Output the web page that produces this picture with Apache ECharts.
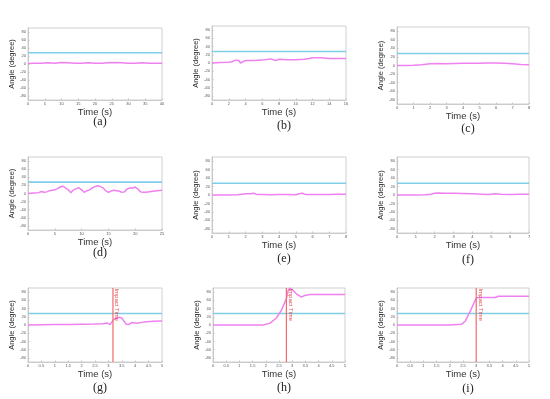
<!DOCTYPE html>
<html><head><meta charset="utf-8">
<script src="https://cdn.jsdelivr.net/npm/echarts@6/dist/echarts.min.js"></script>
<style>html,body{margin:0;padding:0;background:#fff}#c{width:550px;height:399px}</style>
</head><body><div id="c"></div>
<script>
// ---------- data ----------
const panelLabels = ['(a)','(b)','(c)','(d)','(e)','(f)','(g)','(h)','(i)'];
const yTicks = [-80,-60,-40,-20,0,20,40,60,80];
const threshold = 28;

const tA = [0,2,4,6,8,10,12,14,16,18,20,22,24,26,28,30,32,34,36,38,40];
const vA = [1,2,2,3,2,4,3,2,2,3,2,2,3,4,3,2,2,3,2,2,2];
const xTicksA = [0,5,10,15,20,25,30,35,40];

const tB = [0,1,2,2.4,2.8,3.0,3.2,3.4,3.6,4,5,6,7,7.6,8,9,10,11,11.6,12,12.2,12.6,13,14,15,16];
const vB = [0,1.5,2,3,7,10,6,0,3,6,6,7,10,6,9,8,8,9,11,13,10,13,13,11,11,11];
const xTicksB = [0,2,4,6,8,10,12,14,16];

const tC = [0,0.5,1,1.5,2,2.5,3,3.5,4,4.5,5,5.5,6,6.5,7,7.5,8];
const vC = [0,0,0.5,2,4,4.5,4,4.5,5,5,5.5,6,6,5.5,4,2.5,2];
const xTicksC = [0,1,2,3,4,5,6,7,8];

const tD = [0,1,2,2.5,3,3.5,4,4.5,5,5.5,6,6.5,7,7.5,8,8.5,9,9.5,10,10.5,11,11.5,12,12.5,13,13.5,14,14.5,15,15.5,16,16.5,17,17.5,18,18.5,19,19.5,20,20.5,21,21.5,22,23,24,25];
const vD = [0,1,2,5,3,4,7,8,9,12,16,18,14,9,2,9,12,14,9,3,7,9,14,17,19,17,14,7,3,6,8,7,6,3,4,11,14,13,16,11,4,3,3,5,7,8];
const xTicksD = [0,5,10,15,20,25];

const tE = [0,0.5,1,1.5,1.8,2,2.3,2.5,2.7,3,3.5,4,4.5,5,5.2,5.4,5.6,6,6.5,7,7.5,8];
const vE = [0,0,0,0.5,2,3,3,4,1,1,0.5,1,1,0.5,3,4,1,1,1,1,2,2];
const xTicksE = [0,1,2,3,4,5,6,7,8];

const tF = [0,0.5,1,1.5,1.8,2,2.2,2.5,3,3.5,4,4.5,4.8,5,5.2,5.5,6,6.5,7];
const vF = [0,0,0,0.5,2,4,5,4,4,3.5,3,2,1,2,3,1.5,1,1.5,2];
const xTicksF = [0,1,2,3,4,5,6,7];

const tG = [0,0.5,1,1.5,2,2.5,2.8,2.94,3.0,3.06,3.19,3.3,3.4,3.5,3.66,3.75,3.87,4.06,4.31,4.69,5];
const vG = [0,0.5,1,1.5,2,2.5,3,5,5,1,13,17,19,17,2,1,6,4,7,9,10];
const impactG = 3.17;

const tH = [0,0.5,1,1.5,1.9,2.15,2.4,2.6,2.72,2.78,2.85,2.91,3.04,3.16,3.35,3.48,3.67,4,4.5,5];
const vH = [0,0,0,0,0,4,17,37,55,64,84,90,84,76,68,72,74,74,74,74];
const impactH = 2.78;

const tI = [0,0.5,1,1.5,1.95,2.45,2.58,2.77,2.93,3.02,3.15,3.72,3.84,4.5,5];
const vI = [0,0,0,0,0,2,9,33,56,66,67,67,70,70,70];
const impactI = 3.0;

const xTicksGHI = [0,0.5,1,1.5,2,2.5,3,3.5,4,4.5,5];

const panels = [
  {t:tA,v:vA,ticks:xTicksA},{t:tB,v:vB,ticks:xTicksB},{t:tC,v:vC,ticks:xTicksC},
  {t:tD,v:vD,ticks:xTicksD},{t:tE,v:vE,ticks:xTicksE},{t:tF,v:vF,ticks:xTicksF},
  {t:tG,v:vG,ticks:xTicksGHI,impact:impactG},{t:tH,v:vH,ticks:xTicksGHI,impact:impactH},{t:tI,v:vI,ticks:xTicksGHI,impact:impactI}
];

// ---------- layout ----------
const boxes = [
  {l:28,t:28,w:134,h:72,lab:118},{l:212,t:26,w:134,h:74,lab:122},{l:397,t:27,w:132,h:77,lab:125},
  {l:28,t:157,w:134,h:73,lab:249},{l:212,t:157,w:134,h:76,lab:255},{l:397,t:157,w:132,h:76,lab:256},
  {l:28,t:288,w:134,h:74,lab:384},{l:213,t:288,w:132,h:74,lab:384},{l:397,t:288,w:132,h:74,lab:385}
];

const grid=[],xAxis=[],yAxis=[],series=[],title=[];
const axisCol='#c4c4c4', labCol='#555';
panels.forEach((p,i)=>{
  const b=boxes[i];
  grid.push({left:b.l,top:b.t,width:b.w,height:b.h,show:true,borderColor:axisCol,borderWidth:0.8,backgroundColor:'#fff'});
  const xmax=p.ticks[p.ticks.length-1];
  xAxis.push({gridIndex:i,type:'value',min:0,max:xmax,
    name:'Time (s)',nameLocation:'middle',nameGap:5,
    nameTextStyle:{fontFamily:'Liberation Sans',fontSize:9.5,color:'#333',verticalAlign:'top'},
    axisLine:{show:true,onZero:false,lineStyle:{color:axisCol,width:0.8}},
    axisTick:{show:true,inside:true,length:1.5,lineStyle:{color:axisCol},customValues:p.ticks},
    axisLabel:{fontSize:4,color:labCol,margin:2,customValues:p.ticks,fontFamily:'Liberation Sans'},
    splitLine:{show:false}});
  yAxis.push({gridIndex:i,type:'value',min:-90,max:90,
    name:'Angle (degree)',nameLocation:'middle',nameGap:5,nameRotate:90,
    nameTextStyle:{fontFamily:'Liberation Sans',fontSize:7.5,color:'#2a2a2a'},
    axisLine:{show:true,onZero:false,lineStyle:{color:axisCol,width:0.8}},
    axisTick:{show:true,inside:true,length:1.5,lineStyle:{color:axisCol},customValues:yTicks},
    axisLabel:{fontSize:4,color:labCol,margin:2,customValues:yTicks,fontFamily:'Liberation Sans'},
    splitLine:{show:false}});
  // threshold line
  series.push({type:'line',xAxisIndex:i,yAxisIndex:i,symbol:'none',silent:true,
    data:[[0,threshold],[xmax,threshold]],lineStyle:{color:'#80cde6',width:1.6},z:2});
  // angle curve
  series.push({type:'line',xAxisIndex:i,yAxisIndex:i,symbol:'none',silent:true,
    data:p.t.map((t,k)=>[t,p.v[k]]),
    lineStyle:{color:'#ef80ef',width:1.5},z:3});
  if(p.impact!==undefined){
    series.push({type:'line',xAxisIndex:i,yAxisIndex:i,symbol:'none',silent:true,
      data:[[p.impact,-90],[p.impact,90]],lineStyle:{color:'#f26b6b',width:1.2},z:4});
    series.push({type:'scatter',xAxisIndex:i,yAxisIndex:i,symbolSize:0,silent:true,
      data:[[p.impact,89]],
      label:{show:true,formatter:'Impact Time',rotate:-90,position:[1,0],align:'left',verticalAlign:'bottom',
        fontSize:6,color:'#e02020',fontFamily:'Liberation Sans'},z:5});
  }
  title.push({text:panelLabels[i],left:b.l+b.w/2,top:b.lab-7,textAlign:'center',
    textStyle:{fontFamily:'Liberation Serif',fontSize:12,fontWeight:'normal',color:'#222'}});
});

const chart=echarts.init(document.getElementById('c'),null,{renderer:'canvas'});
chart.setOption({animation:false,backgroundColor:'#fff',title,grid,xAxis,yAxis,series});
</script></body></html>
